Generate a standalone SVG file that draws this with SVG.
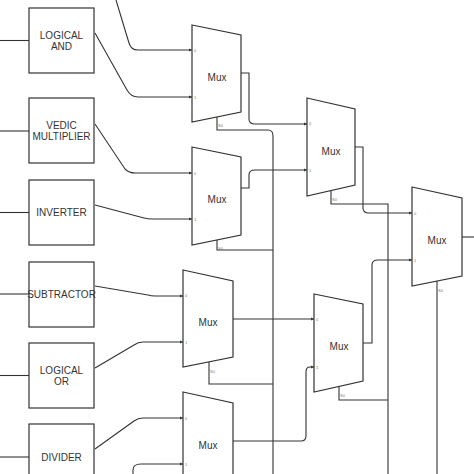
<svg xmlns="http://www.w3.org/2000/svg" width="474" height="474" viewBox="0 0 474 474">
<defs>
<marker id="a" markerWidth="4" markerHeight="4" refX="3" refY="2" orient="auto" markerUnits="userSpaceOnUse"><path d="M0,0.5 L3,2 L0,3.5 Z" fill="#333"/></marker>
<style>
.box{fill:#fff;stroke:#333;stroke-width:1.2}
.mux{fill:#fff;stroke:#333;stroke-width:1.2}
.t{font-family:"Liberation Sans",Arial,sans-serif;font-size:10px;fill:#333;text-anchor:middle}
.p{font-family:"Liberation Sans",Arial,sans-serif;font-size:4px;fill:#777}
.w{fill:none;stroke:#333;stroke-width:1.1}
</style>
</defs>
<rect width="474" height="474" fill="#fff"/>
<g id="connectors">
<path class="w" d="M0,40.5 H29"/>
<path class="w" d="M0,131 H29"/>
<path class="w" d="M0,212.5 H29"/>
<path class="w" d="M0,294 H29"/>
<path class="w" d="M0,375.5 H29"/>
<path class="w" d="M0,457 H29"/>
<path class="w" d="M116,0 L129,43 Q131,50 138,50 H192" marker-end="url(#a)"/>
<path class="w" d="M95,33 L127,90 Q131,97 138,97 H192" marker-end="url(#a)"/>
<path class="w" d="M95,124 L125,169 Q129,173 135,173 H192" marker-end="url(#a)"/>
<path class="w" d="M95,205 L144,218 Q148,219 152,219 H192" marker-end="url(#a)"/>
<path class="w" d="M95,286 L148,295 Q151,296 155,296 H183" marker-end="url(#a)"/>
<path class="w" d="M95,368 L134,345 Q138,342 143,342 H183" marker-end="url(#a)"/>
<path class="w" d="M95,449 L134,421 Q138,418 143,418 H183" marker-end="url(#a)"/>
<path class="w" d="M133,474 V470 Q133,464 141,464 H183" marker-end="url(#a)"/>
<path class="w" d="M241,73 H249 V119 Q249,124 255,124 H307" marker-end="url(#a)"/>
<path class="w" d="M241,188 H249 V175 Q249,170 255,170 H307" marker-end="url(#a)"/>
<path class="w" d="M217,117 V130 H268 Q273,130 273,136 V474"/>
<path class="w" d="M217,240 V250 H273"/>
<path class="w" d="M209,362 V384 H273"/>
<path class="w" d="M233,319 H314" marker-end="url(#a)"/>
<path class="w" d="M233,441 H301 Q306,441 306,436 V372 Q306,367 310,367 H314" marker-end="url(#a)"/>
<path class="w" d="M355,147 H363 V208 Q363,213 369,213 H412" marker-end="url(#a)"/>
<path class="w" d="M331,191 V204 H388 V474"/>
<path class="w" d="M363,343 H372 V265 Q372,260 378,260 H412" marker-end="url(#a)"/>
<path class="w" d="M339,387 V400 H388"/>
<path class="w" d="M462,237 H474"/>
<path class="w" d="M437,281 V474"/>
</g>
<g id="logical-and"><rect class="box" x="29" y="8" width="65" height="65"/><text class="t" x="61.5" y="39">LOGICAL</text><text class="t" x="61.5" y="50">AND</text></g>
<g id="vedic-multiplier"><rect class="box" x="29" y="98" width="65" height="65"/><text class="t" x="61.5" y="129">VEDIC</text><text class="t" x="61.5" y="140">MULTIPLIER</text></g>
<g id="inverter"><rect class="box" x="29" y="180" width="65" height="65"/><text class="t" x="61.5" y="216">INVERTER</text></g>
<g id="subtractor"><rect class="box" x="29" y="262" width="65" height="65"/><text class="t" x="61.5" y="297.5">SUBTRACTOR</text></g>
<g id="logical-or"><rect class="box" x="29" y="343" width="65" height="65"/><text class="t" x="61.5" y="374">LOGICAL</text><text class="t" x="61.5" y="385">OR</text></g>
<g id="divider"><rect class="box" x="29" y="424" width="65" height="65"/><text class="t" x="61.5" y="461">DIVIDER</text></g>
<g id="mux1"><path class="mux" d="M192,25 L241,35 V112 L192,122 Z"/><text class="t" x="217" y="81">Mux</text><text class="p" x="194" y="52">0</text><text class="p" x="194" y="99">1</text><text class="p" x="218" y="127">S0</text></g>
<g id="mux2"><path class="mux" d="M192,147 L241,157 V235 L192,245 Z"/><text class="t" x="217" y="203">Mux</text><text class="p" x="194" y="175">0</text><text class="p" x="194" y="221">1</text><text class="p" x="218" y="250">S0</text></g>
<g id="mux3"><path class="mux" d="M307,98 L355,109 V185 L307,196 Z"/><text class="t" x="331" y="155">Mux</text><text class="p" x="309" y="125">0</text><text class="p" x="309" y="172">1</text><text class="p" x="332" y="201">S0</text></g>
<g id="mux4"><path class="mux" d="M314,294 L363,304 V381 L314,392 Z"/><text class="t" x="339" y="350">Mux</text><text class="p" x="316" y="321">0</text><text class="p" x="316" y="369">1</text><text class="p" x="340" y="397">S0</text></g>
<g id="mux5"><path class="mux" d="M412,187 L462,198 V276 L412,286 Z"/><text class="t" x="437" y="244">Mux</text><text class="p" x="414" y="215">0</text><text class="p" x="414" y="262">1</text><text class="p" x="438" y="292">S0</text></g>
<g id="mux6"><path class="mux" d="M183,270 L233,281 V357 L183,367 Z"/><text class="t" x="208" y="326">Mux</text><text class="p" x="185" y="297">0</text><text class="p" x="185" y="344">1</text><text class="p" x="210" y="373">S0</text></g>
<g id="mux7"><path class="mux" d="M183,392 L233,403 V479 L183,489 Z"/><text class="t" x="208" y="449">Mux</text><text class="p" x="185" y="420">0</text><text class="p" x="185" y="466">1</text></g>
</svg>
